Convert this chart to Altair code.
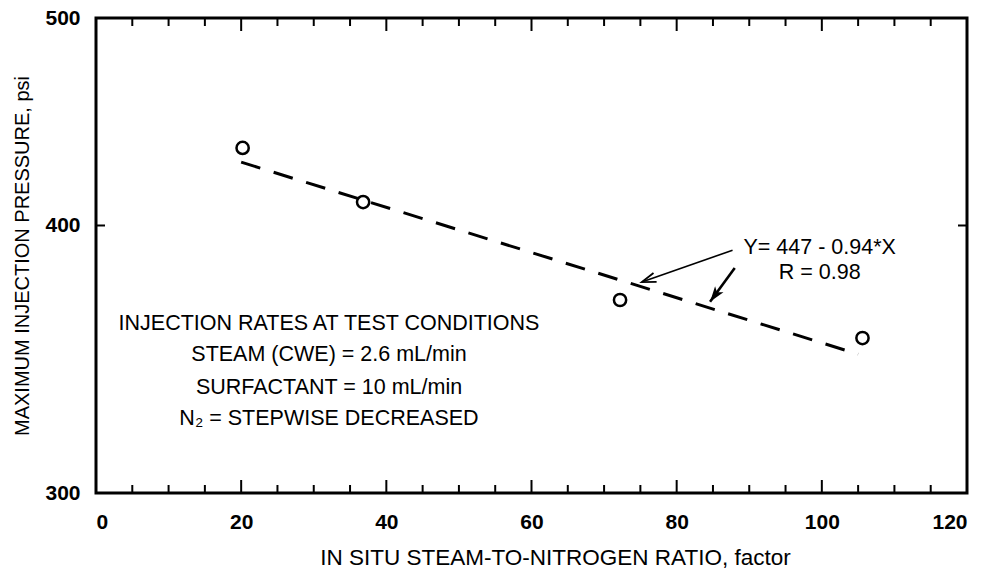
import altair as alt
import pandas as pd

# ---- data ----
pt_x = [20.2, 36.8, 72.2, 105.6]
pt_y = [434.8, 410.2, 369.2, 354.4]

fit_x = [20, 105]
fit_y = [428.2, 348.3]  # Y = 447 - 0.94*X

x_major = [20, 40, 60, 80, 100]
x_minor = [5, 10, 15, 25, 30, 35, 45, 50, 55, 65, 70, 75, 85, 90, 95, 105, 110, 115]
y_inner = [400]

x_ticks_lab = [0, 20, 40, 60, 80, 100, 120]
y_ticks_lab = [300, 400, 500]

# annotation (equation)
eq_text = ["Y= 447 - 0.94*X", "R = 0.98"]
eq_x = [99.7, 99.7]
eq_y = [390.3, 380.0]

# arrows: start -> tip
arr_x = [87.7, 88.0]
arr_y = [389.5, 382.1]
arr_x2 = [75.2, 84.6]
arr_y2 = [376.4, 368.5]

# text block
blk_text = ["INJECTION  RATES AT TEST CONDITIONS", "STEAM (CWE) = 2.6 mL/min",
            "SURFACTANT = 10 mL/min", "N₂ = STEPWISE DECREASED"]
blk_x = [32.1, 32.1, 32.1, 32.1]
blk_y = [359.8, 348.0, 335.9, 324.8]

FONT = "Liberation Sans"
W, H = 871, 475

xs = alt.Scale(domain=[0, 120], nice=False, zero=False)
ys = alt.Scale(type="log", domain=[300, 500], nice=False)

x_axis = alt.Axis(values=x_ticks_lab, title="IN SITU STEAM-TO-NITROGEN RATIO,  factor",
                  grid=False, domain=False, ticks=False, tickSize=0,
                  labelFont=FONT, labelFontSize=21, labelFontWeight="bold",
                  labelColor="black", labelPadding=18,
                  titleFont=FONT, titleFontSize=22.5, titleFontWeight="normal",
                  titleColor="black", titleBaseline="alphabetic", titleY=71,
                  titleX=459, titleAlign="center")
y_axis = alt.Axis(values=y_ticks_lab, title="MAXIMUM INJECTION PRESSURE, psi",
                  grid=False, domain=False, ticks=False, tickSize=0,
                  labelFont=FONT, labelFontSize=21, labelFontWeight="bold",
                  labelColor="black", labelPadding=16,
                  titleFont=FONT, titleFontSize=20, titleFontWeight="normal",
                  titleColor="black", titleBaseline="alphabetic", titleX=-68)


def X(f="x"):
    return alt.X(f + ":Q", scale=xs, axis=x_axis)


def Y(f="y"):
    return alt.Y(f + ":Q", scale=ys, axis=y_axis)


pts = pd.DataFrame({"x": pt_x, "y": pt_y})
fit = pd.DataFrame({"x": fit_x, "y": fit_y})

fit_line = alt.Chart(fit).mark_line(color="black", strokeWidth=3, strokeDash=[20, 14]).encode(
    x=X(), y=Y())

points = alt.Chart(pts).mark_point(shape="circle", filled=False, size=150, strokeWidth=2.5,
                                   color="black", opacity=1).encode(x=X(), y=Y())

# inward ticks
xmaj = pd.DataFrame({"x": x_major})
xmin = pd.DataFrame({"x": x_minor})
tick_b_maj = alt.Chart(xmaj).mark_rule(color="black", strokeWidth=2).encode(
    x=X(), y=alt.value(H), y2=alt.value(H - 13))
tick_b_min = alt.Chart(xmin).mark_rule(color="black", strokeWidth=2).encode(
    x=X(), y=alt.value(H), y2=alt.value(H - 8))
tick_t_maj = alt.Chart(xmaj).mark_rule(color="black", strokeWidth=2).encode(
    x=X(), y=alt.value(0), y2=alt.value(13))
tick_t_min = alt.Chart(xmin).mark_rule(color="black", strokeWidth=2).encode(
    x=X(), y=alt.value(0), y2=alt.value(8))
yin = pd.DataFrame({"y": y_inner})
tick_l = alt.Chart(yin).mark_rule(color="black", strokeWidth=2).encode(
    y=Y(), x=alt.value(0), x2=alt.value(9))
tick_r = alt.Chart(yin).mark_rule(color="black", strokeWidth=2).encode(
    y=Y(), x=alt.value(W), x2=alt.value(W - 9))

# arrows
arr = pd.DataFrame({"x": arr_x, "y": arr_y, "x2": arr_x2, "y2": arr_y2})
arrow1 = alt.Chart(arr.iloc[[0]]).mark_rule(color="black", strokeWidth=1.6).encode(
    x=X(), y=Y(), x2="x2:Q", y2="y2:Q")
arrow2 = alt.Chart(arr.iloc[[1]]).mark_rule(color="black", strokeWidth=2.6).encode(
    x=X(), y=Y(), x2="x2:Q", y2="y2:Q")
head1 = alt.Chart(arr.iloc[[0]]).mark_point(
    shape="M-0.5,1.5 L0,0 L0.5,1.5", filled=False, size=350, strokeWidth=1.8,
    color="black", opacity=1, angle=250.6).encode(x=X("x2"), y=Y("y2"))
head2 = alt.Chart(arr.iloc[[1]]).mark_point(
    shape="M0,0 L-0.6,1.8 L0,1.35 L0.6,1.8 Z", filled=True, size=300,
    color="black", opacity=1, angle=216.3).encode(x=X("x2"), y=Y("y2"))

eq = pd.DataFrame({"t": eq_text, "x": eq_x, "y": eq_y})
eq_txt = alt.Chart(eq).mark_text(font=FONT, fontSize=21.5, color="black", align="center",
                                 baseline="middle").encode(x=X(), y=Y(), text="t:N")

bk = pd.DataFrame({"t": blk_text, "x": blk_x, "y": blk_y})
bk_txt = alt.Chart(bk).mark_text(font=FONT, fontSize=21.5, color="black", align="center",
                                 baseline="middle").encode(x=X(), y=Y(), text="t:N")

chart = alt.layer(
    fit_line, points, tick_b_maj, tick_b_min, tick_t_maj, tick_t_min, tick_l, tick_r,
    arrow1, arrow2, head1, head2, eq_txt, bk_txt
).properties(
    width=W, height=H,
    autosize=alt.AutoSizeParams(type="none"),
    padding={"left": 96, "top": 18, "right": 27, "bottom": 76},
    background="white",
).configure_view(stroke="black", strokeWidth=3)

chart.save("out.html", embed_options={"renderer": "svg", "actions": False})
